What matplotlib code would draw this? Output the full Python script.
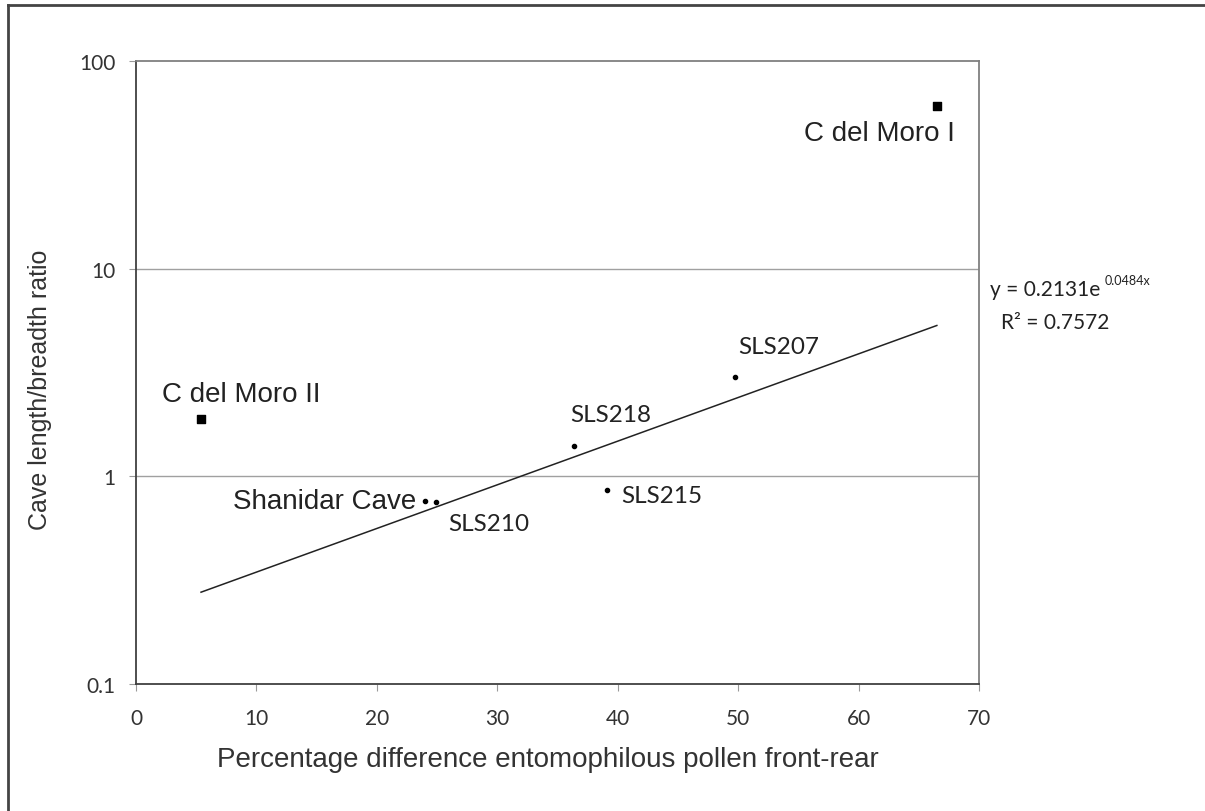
import numpy as np
import matplotlib.pyplot as plt
from matplotlib.lines import Line2D

# values
square_names = ['C del Moro I', 'C del Moro II']
square_x = [66.5, 5.4]
square_y = [60.5, 1.89]

dot_names = ['Shanidar Cave', 'SLS210', 'SLS218', 'SLS215', 'SLS207']
dot_x = [24.0, 24.9, 36.4, 39.1, 49.7]
dot_y = [0.76, 0.75, 1.40, 0.86, 3.01]

# exponential trendline as printed on the chart
fit_a = 0.2131
fit_b = 0.0484
fit_r2 = 0.7572

x_ticks = [0, 10, 20, 30, 40, 50, 60, 70]
y_ticks = [0.1, 1, 10, 100]
y_ticklabels = ['0.1', '1', '10', '100']

ARIAL = 'Liberation Sans'
CALIBRI = 'Lato'
TXT = '#222222'

fig = plt.figure(figsize=(12.05, 8.12), dpi=100)
ax = fig.add_axes([136 / 1205, 1 - 685 / 812, (979 - 136) / 1205, (685 - 62) / 812])

ax.set_yscale('log')
ax.set_xlim(0, 70)
ax.set_ylim(0.1, 100)

# gridlines at the inner decades
for gy in [1, 10]:
    ax.axhline(gy, color='#a0a0a0', lw=1.0, zorder=0)

# trendline over the data range
xs = np.linspace(min(square_x + dot_x), max(square_x + dot_x), 100)
ax.plot(xs, fit_a * np.exp(fit_b * xs), color='#222222', lw=1.1, zorder=2)

ax.scatter(square_x, square_y, marker='s', s=38, color='black', zorder=3)
ax.scatter(dot_x, dot_y, marker='o', s=9, color='black', zorder=3)

# data labels
ax.text(68.0, 45, square_names[0], fontsize=20, family=ARIAL, ha='right', va='center', color=TXT)
ax.text(2.15, 2.49, square_names[1], fontsize=20, family=ARIAL, ha='left', va='center', color=TXT)
ax.text(23.3, 0.76, dot_names[0], fontsize=20, family=ARIAL, ha='right', va='center', color=TXT)
ax.text(25.9, 0.59, dot_names[1], fontsize=17.5, family=CALIBRI, ha='left', va='center', color=TXT)
ax.text(36.05, 1.98, dot_names[2], fontsize=17.5, family=CALIBRI, ha='left', va='center', color=TXT)
ax.text(40.3, 0.805, dot_names[3], fontsize=17.5, family=CALIBRI, ha='left', va='center', color=TXT)
ax.text(50.0, 4.2, dot_names[4], fontsize=17.5, family=CALIBRI, ha='left', va='center', color=TXT)

# trendline equation outside the plot area
eq = ax.text(1.013, 0.634, 'y = %.4fe' % fit_a, transform=ax.transAxes,
             fontsize=15, family=CALIBRI, ha='left', va='center', color=TXT)
ax.annotate('%.4fx' % fit_b, xy=(1.0, 0.95), xycoords=eq, xytext=(3, 0), textcoords='offset points',
            fontsize=9, family=CALIBRI, ha='left', va='center', color=TXT)
ax.text(1.026, 0.581, 'R\u00b2 = %.4f' % fit_r2, transform=ax.transAxes,
        fontsize=15, family=CALIBRI, ha='left', va='center', color=TXT)

ax.set_xticks(x_ticks)
ax.set_xticklabels([str(t) for t in x_ticks])
ax.set_yticks(y_ticks)
ax.set_yticklabels(y_ticklabels)
ax.minorticks_off()
ax.tick_params(axis='x', direction='out', length=5, width=0.8, color='#999999', pad=12,
               labelsize=15, labelcolor='#333333')
ax.tick_params(axis='y', direction='out', length=5, width=0.8, color='#999999', pad=10,
               labelsize=15, labelcolor='#333333')
for lab in ax.get_xticklabels() + ax.get_yticklabels():
    lab.set_family(CALIBRI)

for side in ['left', 'bottom']:
    ax.spines[side].set_color('#404040')
    ax.spines[side].set_linewidth(1.3)
for side in ['top', 'right']:
    ax.spines[side].set_color('#808080')
    ax.spines[side].set_linewidth(1.3)

ax.set_xlabel('Percentage difference entomophilous pollen front-rear', fontsize=20,
              family=ARIAL, color='#333333', va='center')
ax.xaxis.set_label_coords(0.489, -0.120)
ax.set_ylabel('Cave length/breadth ratio', fontsize=18, family=ARIAL, color='#333333', va='center')
ax.yaxis.set_label_coords(-0.114, 0.4735)

# frame of the original figure (only top and left edges visible)
fig.add_artist(Line2D([8 / 1205, 8 / 1205], [0, 1 - 6 / 812], color='#444444', lw=2))
fig.add_artist(Line2D([8 / 1205, 1], [1 - 6 / 812, 1 - 6 / 812], color='#444444', lw=2))

fig.savefig('out.png', dpi=100)
